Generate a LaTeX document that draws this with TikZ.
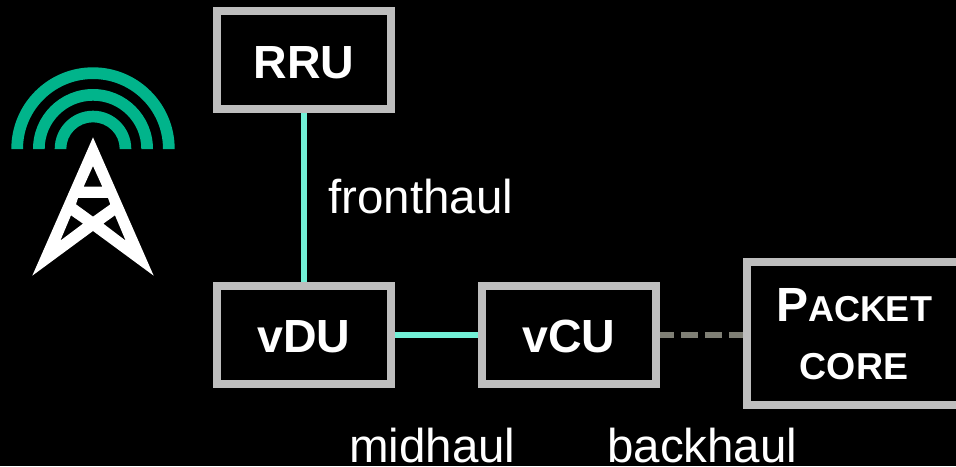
\documentclass[tikz,border=0pt]{standalone}
\usepackage{fontspec}
\setmainfont{Liberation Sans}
\definecolor{boxgray}{HTML}{BEBEBE}
\definecolor{teal}{HTML}{01B48B}
\definecolor{mint}{HTML}{72F0D6}
\definecolor{dashgray}{HTML}{7F7F75}
\tikzset{
  nodebox/.style={draw=boxgray,line width=8pt,fill=black,inner sep=0pt,text=white,align=center,font=\fontsize{46.5}{56}\selectfont\bfseries},
  lbl/.style={text=white,inner sep=0pt,font=\fontsize{47.5}{56}\selectfont},
  link/.style={draw=mint,line width=6pt},
  back/.style={draw=dashgray,line width=6pt,dash pattern=on 17pt off 7pt,dash phase=3pt}
}
\begin{document}
\begin{tikzpicture}[x=1pt,y=-1pt]
\useasboundingbox[fill=black] (0,0) rectangle (956,466);
\node[nodebox,minimum width=174pt,minimum height=98pt,text height=36.5pt,text depth=0pt] (rru) at (304,60.3) {RRU};
\node[nodebox,minimum width=174pt,minimum height=98pt,text height=35pt,text depth=0pt] (vdu) at (304,334.7) {vDU};
\node[nodebox,minimum width=174pt,minimum height=98pt,text height=35pt,text depth=0pt] (vcu) at (569,334.7) {vCU};
\node[nodebox,minimum width=214pt,minimum height=143pt,font=\fontsize{36}{58}\selectfont\bfseries] (core) at (854,333.7) {{\fontsize{48}{58}\selectfont P}ACKET\\{\fontsize{37.5}{58}\selectfont CORE}};
\draw[link] (rru) -- (vdu);
\draw[link] (vdu) -- (vcu);
\draw[back] (vcu.east) -- (vcu.east -| core.west);
\node[lbl,anchor=base west] (f) at (328,213) {fronthaul};
\node[lbl,anchor=base west] (m) at (349,462.5) {midhaul};
\node[lbl,anchor=base west] (b) at (607,462.5) {backhaul};
% antenna arcs
\begin{scope}[shift={(93,149)}]
\fill[teal] (-81.7,0) arc[start angle=180,end angle=360,radius=81.7] -- (70,0) arc[start angle=360,end angle=180,radius=70] -- cycle;
\fill[teal] (-60,0) arc[start angle=180,end angle=360,radius=60] -- (48.3,0) arc[start angle=360,end angle=180,radius=48.3] -- cycle;
\fill[teal] (-38.3,0) arc[start angle=180,end angle=360,radius=38.3] -- (26.7,0) arc[start angle=360,end angle=180,radius=26.7] -- cycle;
\end{scope}
% tower
\begin{scope}[x=0.3333pt,y=-0.3333pt,yshift=-60pt]
\fill[white,even odd rule]
 (279,232) -- (461,647) -- (279,513) -- (97,647) -- cycle
 (279,318) -- (307,380) -- (251,380) -- cycle
 (234,414) -- (324,414) -- (331,433) -- (279,470) -- (228,433) -- cycle
 (213,466) -- (249,491) -- (181,542) -- cycle
 (345,466) -- (310,491) -- (377,542) -- cycle;
\end{scope}
\end{tikzpicture}
\end{document}
